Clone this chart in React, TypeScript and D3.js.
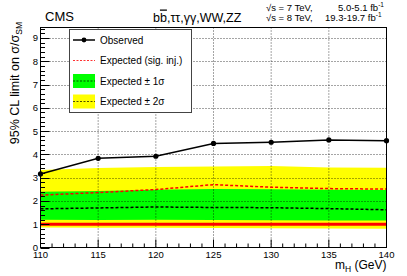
import React from "react";
import * as d3 from "d3";

const masses = [110, 115, 120, 125, 130, 135, 140];
const observed = [3.16, 3.83, 3.92, 4.47, 4.52, 4.62, 4.59];
const expected = [1.66, 1.7, 1.74, 1.72, 1.71, 1.67, 1.62];
const sigInjected = [2.25, 2.36, 2.49, 2.7, 2.59, 2.53, 2.51];
const oneSigUp = [2.39, 2.43, 2.48, 2.51, 2.5, 2.48, 2.47];
const oneSigDown = [1.19, 1.18, 1.19, 1.18, 1.17, 1.16, 1.16];
const twoSigUp = [3.33, 3.42, 3.46, 3.48, 3.5, 3.44, 3.43];
const twoSigDown = [0.86, 0.85, 0.85, 0.84, 0.83, 0.82, 0.81];
const xTicks = [110, 115, 120, 125, 130, 135, 140];
const yTicks = [0, 1, 2, 3, 4, 5, 6, 7, 8, 9];
const legendLabels = ["Observed", "Expected (sig. inj.)", "Expected \u00b1 1\u03c3", "Expected \u00b1 2\u03c3"];

const W = 407;
const H = 276;
const L = 40.5;
const R = 386.5;
const T = 27.5;
const B = 247.5;
const FONT = "'Liberation Sans', Arial, Helvetica, sans-serif";

export default function App() {
  const x = d3.scaleLinear().domain([110, 140]).range([L, R]);
  const y = d3.scaleLinear().domain([0, 9.45]).range([B, T]);

  const band = (lo: number[], hi: number[]) =>
    d3
      .area<number>()
      .x((_, i) => x(masses[i]))
      .y0((_, i) => y(lo[i]))
      .y1((_, i) => y(hi[i]))(masses) || "";
  const line = (vals: number[]) =>
    d3
      .line<number>()
      .x((_, i) => x(masses[i]))
      .y((_, i) => y(vals[i]))(masses) || "";

  const xMinor = d3.range(110, 140.01, 1);
  const yMinor = d3.range(0, 9.45, 0.2);

  const legX = 69.5;
  const legY = 29.5;
  const legW = 122;
  const legH = 83;
  const rowY = [40, 60.5, 81, 101.5];

  return (
    <svg
      width={W}
      height={H}
      style={{ position: "absolute", left: 0, top: 0, background: "#fff" }}
      fontFamily={FONT}
    >
      <rect x={0} y={0} width={W} height={H} fill="#fff" />
      {/* bands */}
      <path d={band(twoSigDown, twoSigUp)} fill="#ffff00" />
      <path d={band(oneSigDown, oneSigUp)} fill="#00ff00" />
      {/* grid */}
      {xTicks.slice(1, -1).map((t) => (
        <line key={"gx" + t} x1={x(t)} x2={x(t)} y1={T} y2={B} stroke="#000" strokeWidth={1} strokeDasharray="1 2" opacity={0.7} />
      ))}
      {yTicks.slice(1).map((t) => (
        <line key={"gy" + t} x1={L} x2={R} y1={Math.round(y(t)) + 0.5} y2={Math.round(y(t)) + 0.5} stroke="#000" strokeWidth={1} strokeDasharray="1 2" opacity={0.7} />
      ))}
      {/* SM line */}
      <line x1={L} x2={R} y1={y(1)} y2={y(1)} stroke="#ff0000" strokeWidth={3} />
      {/* expected */}
      <path d={line(expected)} fill="none" stroke="#000" strokeWidth={1.5} strokeDasharray="3 2" />
      <path d={line(sigInjected)} fill="none" stroke="#ff0000" strokeWidth={1.5} strokeDasharray="3 2" />
      {/* observed */}
      <path d={line(observed)} fill="none" stroke="#000" strokeWidth={1.5} />
      {observed.map((v, i) => (
        <circle key={"o" + i} cx={x(masses[i])} cy={y(v)} r={2.6} fill="#000" />
      ))}
      {/* frame */}
      <rect x={L} y={T} width={R - L} height={B - T} fill="none" stroke="#000" strokeWidth={1} />
      {/* x ticks */}
      {xMinor.map((t) => {
        const major = t % 5 === 0;
        return <line key={"xt" + t} x1={x(t)} x2={x(t)} y1={B} y2={B - (major ? 8 : 4)} stroke="#000" strokeWidth={1} />;
      })}
      {xTicks.map((t) => (
        <text key={"xl" + t} x={x(t)} y={257.5} fontSize={9.5} textAnchor="middle" fill="#000">
          {t}
        </text>
      ))}
      {/* y ticks */}
      {yMinor.map((t, i) => {
        const major = i % 5 === 0;
        const yy = Math.round(y(t)) + 0.5;
        return <line key={"yt" + i} x1={L} x2={L + (major ? 9 : 4.5)} y1={yy} y2={yy} stroke="#000" strokeWidth={1} />;
      })}
      {yTicks.map((t) => (
        <text key={"yl" + t} x={38} y={y(t) + 3.5} fontSize={9.5} textAnchor="end" fill="#000">
          {t}
        </text>
      ))}
      {/* axis titles */}
      <text x={R} y={268.5} fontSize={12} textAnchor="end" fill="#000">
        m<tspan fontSize={8.5} dy={3}>H</tspan>
        <tspan dy={-3}> (GeV)</tspan>
      </text>
      <text transform="translate(19,22) rotate(-90)" fontSize={12.5} textAnchor="end" fill="#000">
        95% CL limit on σ/σ<tspan fontSize={8.5} dy={3}>SM</tspan>
      </text>
      {/* header */}
      <text x={45} y={20.5} fontSize={13} fill="#000">CMS</text>
      <text x={153} y={21.5} fontSize={12.5} fill="#000">
        b<tspan style={{ textDecoration: "overline" }}>b</tspan>,ττ,γγ,WW,ZZ
      </text>
      <text x={266} y={10.5} fontSize={9.5} fill="#000">√s = 7 TeV,</text>
      <text x={338} y={10.5} fontSize={9.5} fill="#000">
        5.0-5.1 fb<tspan fontSize={6.5} dy={-3.5}>-1</tspan>
      </text>
      <text x={266} y={20.5} fontSize={9.5} fill="#000">√s = 8 TeV,</text>
      <text x={325} y={20.5} fontSize={9.5} fill="#000">
        19.3-19.7 fb<tspan fontSize={6.5} dy={-3.5}>-1</tspan>
      </text>
      {/* legend */}
      <rect x={legX} y={legY} width={legW} height={legH} fill="#fff" stroke="#444" strokeWidth={1} />
      <line x1={73} x2={95} y1={rowY[0]} y2={rowY[0]} stroke="#000" strokeWidth={1.5} />
      <circle cx={84} cy={rowY[0]} r={2.4} fill="#000" />
      <line x1={73} x2={95} y1={rowY[1]} y2={rowY[1]} stroke="#ff0000" strokeWidth={1.2} strokeDasharray="2 1.5" opacity={0.8} />
      <rect x={73} y={rowY[2] - 7} width={22} height={14} fill="#00ff00" />
      <line x1={73} x2={95} y1={rowY[2]} y2={rowY[2]} stroke="#000" strokeWidth={1} strokeDasharray="2 1.5" opacity={0.7} />
      <rect x={73} y={rowY[3] - 7} width={22} height={14} fill="#ffff00" />
      <line x1={73} x2={95} y1={rowY[3]} y2={rowY[3]} stroke="#000" strokeWidth={1} strokeDasharray="2 1.5" opacity={0.7} />
      {legendLabels.map((lab, i) => (
        <text key={"lg" + i} x={100} y={rowY[i] + 3.5} fontSize={10} fill="#000">
          {lab}
        </text>
      ))}
    </svg>
  );
}
